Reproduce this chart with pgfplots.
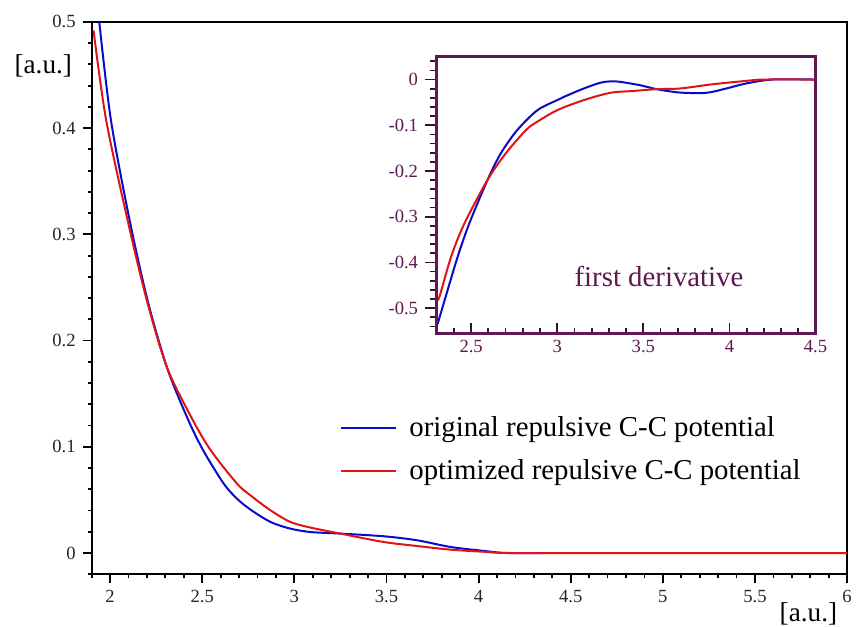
\documentclass[border=0pt]{standalone}
\usepackage{pgfplots}
\pgfplotsset{compat=1.18}
\usepackage{fontspec}
\setmainfont{Liberation Serif}
\definecolor{cblue}{RGB}{10,10,205}
\definecolor{cred}{RGB}{225,20,20}
\definecolor{purp}{RGB}{96,24,80}
\begin{document}
\begin{tikzpicture}
\path[use as bounding box] (0,0) rectangle (428pt,313pt);
\begin{axis}[
  at={(45.85pt,25.85pt)}, anchor=south west,
  scale only axis, width=377.7pt, height=276.2pt,
  xmin=1.9, xmax=6, ymin=-0.02, ymax=0.5,
  axis line style={line width=1.2pt},
  tick align=outside, xtick pos=bottom, ytick pos=left,
  xtick={2,2.5,3,3.5,4,4.5,5,5.5,6},
  xticklabels={2,2.5,3,3.5,4,4.5,5,5.5,6},
  ytick={0,0.1,0.2,0.3,0.4,0.5},
  yticklabels={0,0.1,0.2,0.3,0.4,0.5},
  minor xtick={1.9,2.1,2.2,2.3,2.4,2.6,2.7,2.8,2.9,3.1,3.2,3.3,3.4,3.6,3.7,3.8,3.9,4.1,4.2,4.3,4.4,4.6,4.7,4.8,4.9,5.1,5.2,5.3,5.4,5.6,5.7,5.8,5.9},
  minor ytick={-0.02,0.02,0.04,0.06,0.08,0.12,0.14,0.16,0.18,0.22,0.24,0.26,0.28,0.32,0.34,0.36,0.38,0.42,0.44,0.46,0.48},
  major tick length=4.5pt, minor tick length=2pt,
  tick style={line width=0.9pt, black},
  ticklabel style={font=\fontsize{9.3}{11}\selectfont, text=black!85},
  legend cell align=left,
  legend style={draw=none, fill=none, at={(0.3287,0.293)}, anchor=north west, inner sep=0pt,
    font=\fontsize{14.4}{16}\selectfont, row sep=5.6pt,
    /tikz/every odd column/.append style={column sep=4pt}},
  legend image code/.code={\draw[#1] (0pt,0pt) -- (27.5pt,0pt);},
]
\addplot[cblue, line width=1pt, smooth] coordinates {
(1.941,0.500) (2.004,0.408) (2.105,0.314) (2.203,0.238)
(2.308,0.175) (2.417,0.128) (2.504,0.097) (2.616,0.0655) (2.688,0.0513) (2.761,0.041)
(2.870,0.0293) (2.978,0.023) (3.087,0.0198) (3.25,0.0183) (3.485,0.0158) (3.667,0.012)
(3.848,0.0057) (4.03,0.002) (4.15,0.0) (4.35,0.0)};
\addlegendentry{original repulsive C-C potential}
\addplot[cred, line width=1pt, smooth] coordinates {
(1.91,0.492) (1.978,0.408) (2.094,0.314) (2.199,0.238)
(2.308,0.175) (2.44,0.128) (2.545,0.097) (2.688,0.0655) (2.761,0.0544) (2.870,0.0403)
(2.978,0.0293) (3.087,0.024) (3.25,0.0183) (3.485,0.0104) (3.667,0.0066) (3.848,0.0032)
(4.03,0.0012) (4.2,0.0) (5,0) (6.0,0.0)};
\addlegendentry{optimized repulsive C-C potential}
\end{axis}
% inset: y ticks outside
\begin{axis}[
  at={(218.35pt,146.35pt)}, anchor=south west,
  scale only axis, width=189.4pt, height=138.3pt,
  xmin=2.3, xmax=4.5, ymin=-0.555, ymax=0.05,
  axis background/.style={fill=white},
  axis line style={draw=purp, line width=1.4pt},
  tick align=outside, ytick pos=left, xtick=\empty,
  ytick={-0.5,-0.4,-0.3,-0.2,-0.1,0},
  yticklabels={-0.5,-0.4,-0.3,-0.2,-0.1,0},
  minor ytick={-0.54,-0.52,-0.48,-0.46,-0.44,-0.42,-0.38,-0.36,-0.34,-0.32,-0.28,-0.26,-0.24,-0.22,-0.18,-0.16,-0.14,-0.12,-0.08,-0.06,-0.04,-0.02,0.02,0.04},
  major tick length=5.8pt, minor tick length=3.3pt,
  tick style={line width=0.9pt, purp!60!black},
  ticklabel style={font=\fontsize{9.3}{11}\selectfont, text=purp},
]
\addplot[cblue, line width=1pt, smooth] coordinates {
(2.305,-0.535) (2.36,-0.465) (2.423,-0.386) (2.490,-0.314) (2.596,-0.219) (2.673,-0.161)
(2.769,-0.110) (2.885,-0.067) (3.0,-0.045) (3.038,-0.038) (3.154,-0.0196) (3.25,-0.007)
(3.308,-0.004) (3.365,-0.005) (3.481,-0.0124) (3.577,-0.021) (3.712,-0.0284) (3.865,-0.029)
(3.981,-0.0196) (4.096,-0.0087) (4.25,0) (4.5,0)};
\addplot[cred, line width=1pt, smooth] coordinates {
(2.305,-0.48) (2.317,-0.474) (2.385,-0.386) (2.462,-0.314) (2.596,-0.219) (2.702,-0.161)
(2.82,-0.110) (2.885,-0.092) (3.0,-0.067) (3.154,-0.045) (3.308,-0.029) (3.442,-0.025)
(3.577,-0.021) (3.712,-0.0196) (3.904,-0.0102) (4.096,-0.003) (4.2,0) (4.5,0)};
\end{axis}
% inset: x ticks inside
\begin{axis}[
  at={(218.35pt,146.35pt)}, anchor=south west,
  scale only axis, width=189.4pt, height=138.3pt,
  xmin=2.3, xmax=4.5, ymin=-0.555, ymax=0.05,
  axis line style={draw=purp, line width=1.4pt},
  tick align=inside, xtick pos=bottom, ytick=\empty,
  xtick={2.5,3,3.5,4,4.5},
  xticklabels={2.5,3,3.5,4,4.5},
  minor xtick={2.3,2.4,2.6,2.7,2.8,2.9,3.1,3.2,3.3,3.4,3.6,3.7,3.8,3.9,4.1,4.2,4.3,4.4},
  major tick length=5pt, minor tick length=2.5pt,
  tick style={line width=0.9pt, purp!60!black},
  ticklabel style={font=\fontsize{9.3}{11}\selectfont, text=purp},
]
\end{axis}
\node[anchor=base, text=purp, font=\fontsize{14.4}{16}\selectfont] at (329.5pt,169.5pt) {first derivative};
\node[anchor=base, font=\fontsize{13.6}{16}\selectfont] at (21.65pt,276pt) {[a.u.]};
\node[anchor=base, font=\fontsize{13.6}{16}\selectfont] at (404.2pt,2.15pt) {[a.u.]};
\end{tikzpicture}
\end{document}
